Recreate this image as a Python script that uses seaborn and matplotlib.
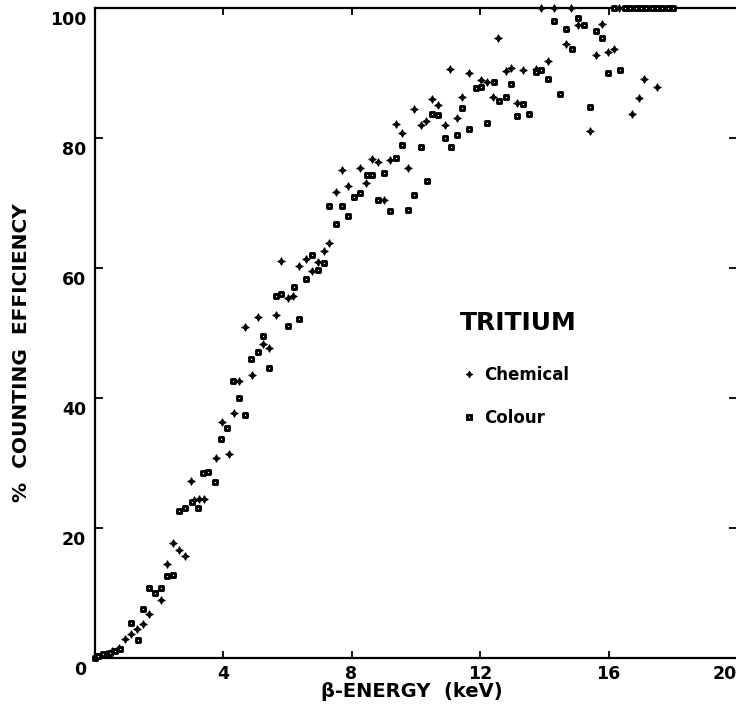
import matplotlib
matplotlib.use("Agg")
import matplotlib.pyplot as plt
import matplotlib.transforms as mtransforms
from matplotlib.lines import Line2D
import seaborn as sns

# ---- data ----
chem_x = [0.35, 0.55, 0.75, 0.95, 1.13, 1.31, 1.50, 1.70, 2.06, 2.26, 2.45, 2.64, 2.81,
          3.00, 3.10, 3.25, 3.40, 3.79, 3.96, 4.18, 4.34, 4.49, 4.89, 4.70, 5.08, 5.25,
          5.44, 5.64, 5.82, 6.01, 6.18, 6.37, 6.58, 6.76, 6.96, 7.14, 7.30, 7.51, 7.69,
          7.88, 8.26, 8.45, 8.65, 8.83, 9.01, 9.19, 9.38, 9.57, 9.76, 9.95, 10.15, 10.33,
          10.52, 10.69, 10.90, 11.06, 11.28, 11.45, 11.65, 12.02, 12.22, 12.40, 12.56,
          12.80, 12.98, 13.16, 13.34, 13.73, 13.91, 14.11, 14.29, 14.67, 14.84, 15.05,
          15.43, 15.62, 15.81, 15.98, 16.17, 16.32, 16.74, 16.94, 17.12, 17.50]
chem_y = [0.5, 1.0, 1.5, 2.9, 3.6, 4.4, 5.2, 6.7, 8.9, 14.4, 17.7, 16.5, 15.6,
          27.2, 24.3, 24.4, 24.4, 30.8, 36.3, 31.4, 37.6, 42.6, 43.5, 50.9, 52.4, 48.3,
          47.7, 52.7, 61.1, 55.3, 55.7, 60.3, 61.3, 59.5, 60.9, 62.6, 63.8, 71.6, 75.0,
          72.5, 75.4, 73.1, 76.7, 76.3, 70.4, 76.6, 82.1, 80.8, 75.4, 84.4, 81.9, 82.6,
          86.0, 85.0, 82.0, 90.6, 83.1, 86.2, 89.9, 88.9, 88.5, 86.3, 95.3,
          90.3, 90.7, 85.4, 90.4, 90.6, 100.0, 91.8, 100.0, 94.4, 100.0, 97.3,
          81.1, 92.7, 97.5, 93.2, 93.6, 100.0, 83.6, 86.1, 89.1, 87.8]

colour_x = [0.00, 0.12, 0.27, 0.48, 0.64, 0.79, 1.14, 1.34, 1.50, 1.70, 1.88, 2.06,
            2.26, 2.43, 2.64, 2.81, 3.02, 3.21, 3.38, 3.54, 3.76, 3.93, 4.14, 4.32,
            4.50, 4.70, 4.87, 5.08, 5.25, 5.44, 5.65, 5.82, 6.01, 6.21, 6.37, 6.58,
            6.76, 6.96, 7.14, 7.30, 7.51, 7.69, 7.89, 8.08, 8.26, 8.47, 8.65, 8.83,
            9.01, 9.19, 9.40, 9.57, 9.76, 9.95, 10.15, 10.35, 10.52, 10.69, 10.90,
            11.09, 11.28, 11.45, 11.65, 11.89, 12.02, 12.23, 12.43, 12.59, 12.80,
            12.98, 13.16, 13.34, 13.52, 13.73, 13.91, 14.11, 14.29, 14.48, 14.67,
            14.86, 15.05, 15.23, 15.43, 15.62, 15.81, 15.98, 16.17, 16.37, 16.52,
            16.68, 16.85, 17.02, 17.18, 17.35, 17.52, 17.68, 17.85, 18.02]
colour_y = [0.0, 0.3, 0.6, 0.8, 1.1, 1.3, 5.3, 2.8, 7.5, 10.7, 10.0, 10.8,
            12.5, 12.7, 22.6, 23.1, 24.0, 23.1, 28.4, 28.5, 27.1, 33.6, 35.3, 42.5,
            40.0, 37.4, 46.0, 47.1, 49.5, 44.6, 55.6, 55.9, 51.0, 57.0, 52.1, 58.3,
            62.0, 59.6, 60.8, 69.5, 66.7, 69.5, 68.0, 70.9, 71.5, 74.3, 74.3, 70.4,
            74.6, 68.8, 76.9, 78.9, 68.9, 71.2, 78.5, 73.3, 83.7, 83.5, 79.9,
            78.6, 80.4, 84.5, 81.3, 87.6, 87.8, 82.3, 88.5, 85.6, 86.2,
            88.3, 83.4, 85.2, 83.6, 90.1, 90.4, 89.0, 98.0, 86.7, 96.8,
            93.6, 98.4, 97.3, 84.8, 96.4, 95.4, 89.9, 100.0, 90.4, 100.0,
            100.0, 100.0, 100.0, 100.0, 100.0, 100.0, 100.0, 100.0, 100.0]

x_ticks = [0, 4, 8, 12, 16, 20]
x_tick_labels = ["", "4", "8", "12", "16", "20"]
y_ticks = [0, 20, 40, 60, 80, 100]
y_tick_labels = ["0", "20", "40", "60", "80", "100"]

series_names = ["Chemical", "Colour"]
title_text = "TRITIUM"
x_label = "β-ENERGY  (keV)"
y_label = "%  COUNTING  EFFICIENCY"

# ---- style ----
sns.set_theme(style="white")
plt.rcParams["font.family"] = ["DejaVu Sans"]
plt.rcParams["font.weight"] = "bold"
plt.rcParams["text.color"] = "black"

W, H = 736, 717
fig = plt.figure(figsize=(W / 100, H / 100), dpi=100)
fig.patch.set_facecolor("white")
ax = fig.add_axes([94.5 / W, (H - 657.7) / H, 642.5 / W, 650 / H])

chem_marker = (4, 1, 0)
sns.scatterplot(x=chem_x, y=chem_y, marker=chem_marker, s=30, color="black",
                edgecolor="black", linewidth=0.6, ax=ax, clip_on=False, zorder=3)
sns.scatterplot(x=colour_x, y=colour_y, marker="s", s=11, facecolor="white",
                edgecolor="black", linewidth=2.1, ax=ax, clip_on=False, zorder=3)

ax.set_xlim(0, 20)
ax.set_ylim(0, 100)
ax.set_xticks(x_ticks)
ax.set_xticklabels(x_tick_labels, fontsize=12.5, fontweight="bold")
ax.set_yticks(y_ticks)
ax.set_yticklabels(y_tick_labels, fontsize=12.5, fontweight="bold")

for side in ["left", "bottom", "top"]:
    ax.spines[side].set_visible(True)
    ax.spines[side].set_color("black")
    ax.spines[side].set_linewidth(1.6)
ax.spines["right"].set_visible(False)

ax.tick_params(axis="x", which="major", direction="in", length=5, width=1.3,
               top=True, bottom=True, pad=5, colors="black")
ax.tick_params(axis="y", which="major", direction="in", length=6, width=1.3,
               left=True, right=True, pad=6, colors="black")

# y tick labels sit a little below their ticks in the original
offset = mtransforms.ScaledTranslation(0, -0.10, fig.dpi_scale_trans)
for lab in ax.get_yticklabels():
    lab.set_transform(lab.get_transform() + offset)
ax.get_xticklabels()[-1].set_horizontalalignment("right")

ax.set_xlabel(x_label, fontsize=14, fontweight="bold", color="black")
ax.xaxis.set_label_coords(0.494, -0.037)
ax.set_ylabel(y_label, fontsize=14.5, fontweight="bold", color="black")
ax.yaxis.set_label_coords(-0.099, 0.47)

# legend
fig.text(518 / W, (H - 322.5) / H, title_text, fontsize=18, fontweight="bold",
         ha="center", va="center", color="black")
handles = [
    Line2D([], [], ls="none", marker=chem_marker, markersize=5, color="black",
           markeredgewidth=0.5),
    Line2D([], [], ls="none", marker="s", markersize=3.3, markerfacecolor="white",
           markeredgecolor="black", markeredgewidth=2.1),
]
leg = ax.legend(handles, series_names, loc="upper left",
                bbox_to_anchor=(462 / W, (H - 366) / H),
                bbox_transform=fig.transFigure, frameon=False, borderpad=0,
                borderaxespad=0, handlelength=0.8, handletextpad=0.5,
                labelspacing=1.5, labelcolor="black",
                prop={"size": 12, "weight": "bold"})

fig.savefig("out.png", dpi=100, facecolor="white")
